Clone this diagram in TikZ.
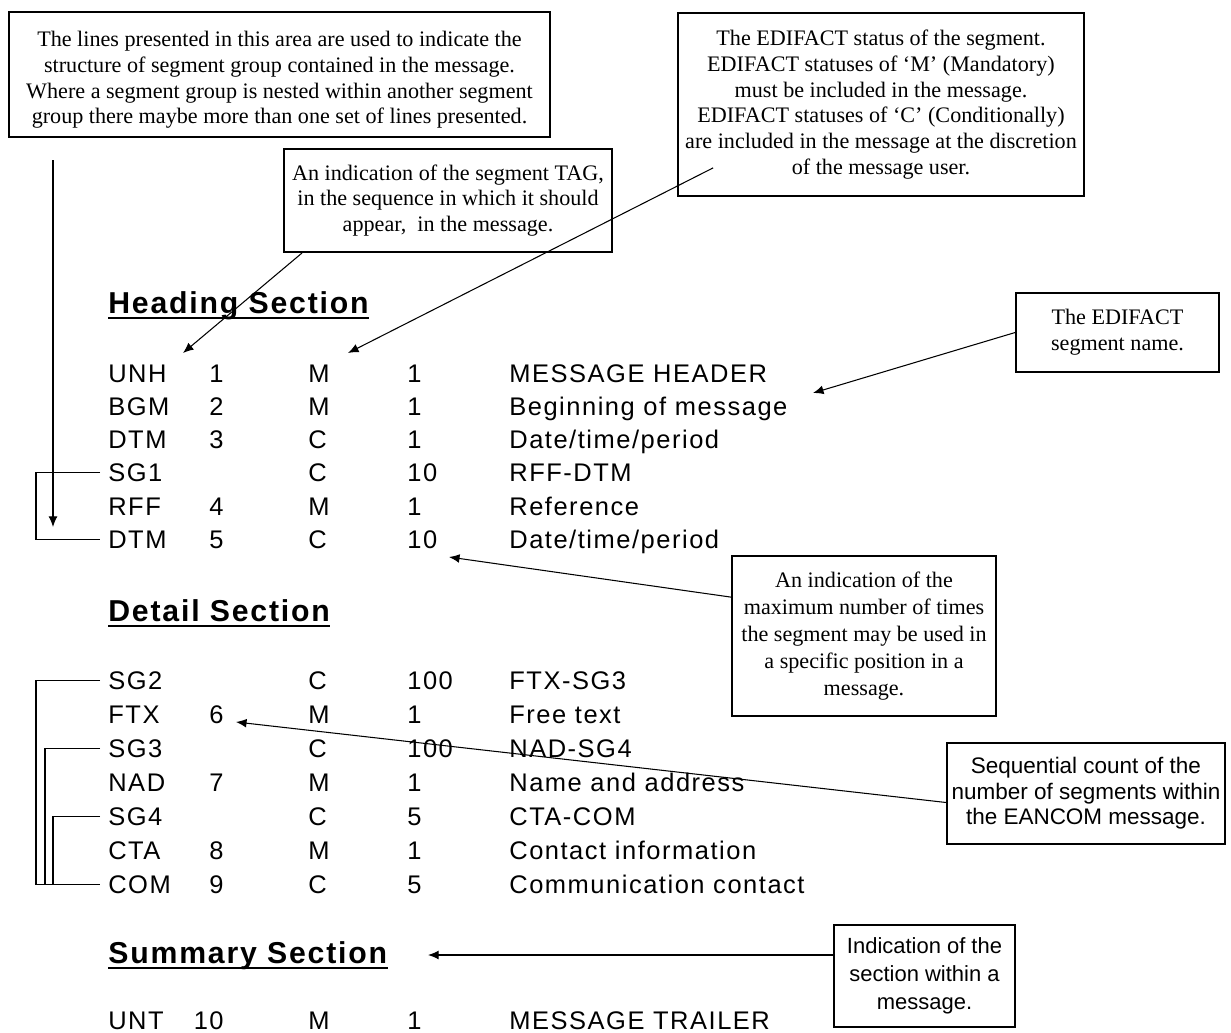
\documentclass[tikz,border=0pt]{standalone}
\usepackage{fontspec}
\setmainfont{Liberation Serif}
\newfontfamily\tabfont[LetterSpace=6]{Liberation Sans}
\newfontfamily\notefont{Liberation Sans}
\usetikzlibrary{arrows.meta, calc}
\tikzstyle{box} = [draw, line width=1pt, rectangle, align=center, inner sep=2pt]
\tikzstyle{note} = [box, font=\fontsize{12.6}{14.6}\selectfont]
\tikzstyle{snote} = [box, font=\notefont\fontsize{12.8}{14.5}\selectfont]
\tikzstyle{cell} = [inner sep=0pt, anchor=base west, font=\tabfont\fontsize{14.5}{16}\selectfont]
\tikzstyle{heading} = [inner sep=0pt, anchor=base west, font=\tabfont\bfseries\fontsize{17.2}{20}\selectfont]
\tikzstyle{pointer} = [-{Latex[length=6pt, width=5pt]}, line width=0.6pt]
\tikzstyle{bracket} = [line width=0.8pt]
\tikzstyle{uline} = [line width=1.1pt]

\begin{document}
\begin{tikzpicture}[x=0.02cm, y=-0.02cm]
    \useasboundingbox (0,0) rectangle (1231,1032);

    % Explanation boxes.
    \node (lines box) [note, minimum width=10.82cm, minimum height=2.5cm] at (279.5,74.5)
        {\rule{0pt}{15pt}The lines presented in this area are used to indicate the\\
         structure of segment group contained in the message.\\
         Where a segment group is nested within another segment\\
         group there maybe more than one set of lines presented.};
    \node (tag box) [note, minimum width=6.56cm, minimum height=2.06cm] at (448,200.5)
        {An indication of the segment TAG,\\
         in the sequence in which it should\\
         appear,\ \ in the message.};
    \node (status box) [note, minimum width=8.12cm, minimum height=3.66cm] at (881,104.5)
        {The EDIFACT status of the segment.\\
         EDIFACT statuses of `M' (Mandatory)\\
         must be included in the message.\\
         EDIFACT statuses of `C' (Conditionally)\\
         are included in the message at the discretion\\
         of the message user.};
    \node (name box) [note, minimum width=4.06cm, minimum height=1.58cm] at (1117.5,332.5)
        {The EDIFACT\\ segment name.};
    \node (max box) [note, font=\fontsize{12.6}{15.3}\selectfont, minimum width=5.28cm, minimum height=3.2cm] at (864,636)
        {An indication of the\\ maximum number of times\\ the segment may be used in\\
         a specific position in a\\ message.};
    \node (count box) [snote, minimum width=5.56cm, minimum height=2.02cm] at (1086,793.5)
        {Sequential count of the\\ number of segments within\\ the EANCOM message.};
    \node (section box) [snote, font=\notefont\fontsize{12.5}{15.9}\selectfont, minimum width=3.62cm, minimum height=2.04cm] at (924.5,976)
        {Indication of the\\ section within a\\ message.};

    % Sections.
    \node (heading 1) [heading] at (108,313) {Heading Section};
    \node (heading 2) [heading] at (108,621) {Detail Section};
    \node (heading 3) [heading] at (108,963) {Summary Section};
    \foreach \i in {1, 2, 3} {%
        \draw [uline] ($(heading \i.base west)+(0,5)$) -- ($(heading \i.base east)+(0,5)$);
    }

    % Segment table.
    \foreach \i/\y/\tg/\st/\ct/\ds in {1/373/UNH/M/1/MESSAGE HEADER, 2/406/BGM/M/1/Beginning of message,
        3/439/DTM/C/1/{Date/time/period}, 4/472/SG1/C/10/RFF-DTM, 5/506/RFF/M/1/Reference,
        6/539/DTM/C/10/{Date/time/period}, 7/680/SG2/C/100/FTX-SG3, 8/714/FTX/M/1/Free text,
        9/748/SG3/C/100/NAD-SG4, 10/782/NAD/M/1/Name and address, 11/816/SG4/C/5/CTA-COM,
        12/850/CTA/M/1/Contact information, 13/884/COM/C/5/Communication contact,
        14/1020/UNT/M/1/MESSAGE TRAILER} {%
        \node (tag \i) [cell] at (108,\y+9) {\tg};
        \node (status \i) [cell] at (308,\y+9) {\st};
        \node (repeat \i) [cell] at (407,\y+9) {\ct};
        \node (name \i) [cell] at (509,\y+9) {\ds};
    }
    \coordinate (num col) at (224,0);
    \foreach \i/\n in {1/1, 2/2, 3/3, 5/4, 6/5, 8/6, 10/7, 12/8, 13/9, 14/10} {%
        \node (num \i) [cell, anchor=base east] at (tag \i.base -| num col) {\n};
    }

    % Group lines.
    \coordinate (lane 1) at (36,0);
    \coordinate (lane 2) at (45,0);
    \coordinate (lane 3) at (53,0);
    \foreach \a/\b/\l in {4/6/1, 7/13/1, 9/13/2, 11/13/3} {%
        \draw [bracket] ($(tag \a.west)+(-8,0)$) -- (tag \a.west -| lane \l)
            -- (tag \b.west -| lane \l) -- ($(tag \b.west)+(-8,0)$);
    }

    % Arrows.
    \coordinate (group top) at (53,160);
    \coordinate (group end) at (53,527);
    \draw [pointer] (group top) -- (group end);
    \coordinate (tag tip) at (183,353);
    \draw [pointer] ($(tag box.south west)+(19,0)$) -- (tag tip);
    \coordinate (status tip) at (348,353);
    \draw [pointer] ($(status box.south west)+(36,-29)$) -- (status tip);
    \coordinate (name tip) at (813,393);
    \draw [pointer] (name box.west) -- (name tip);
    \coordinate (max tip) at (449,557);
    \draw [pointer] ($(max box.north west)+(0,42)$) -- (max tip);
    \coordinate (count tip) at (236,722);
    \draw [pointer] ($(count box.west)+(0,9)$) -- (count tip);
    \coordinate (section tip) at (428,955);
    \draw [pointer] ($(section box.west)+(0,-21)$) -- (section tip);
\end{tikzpicture}
\end{document}
